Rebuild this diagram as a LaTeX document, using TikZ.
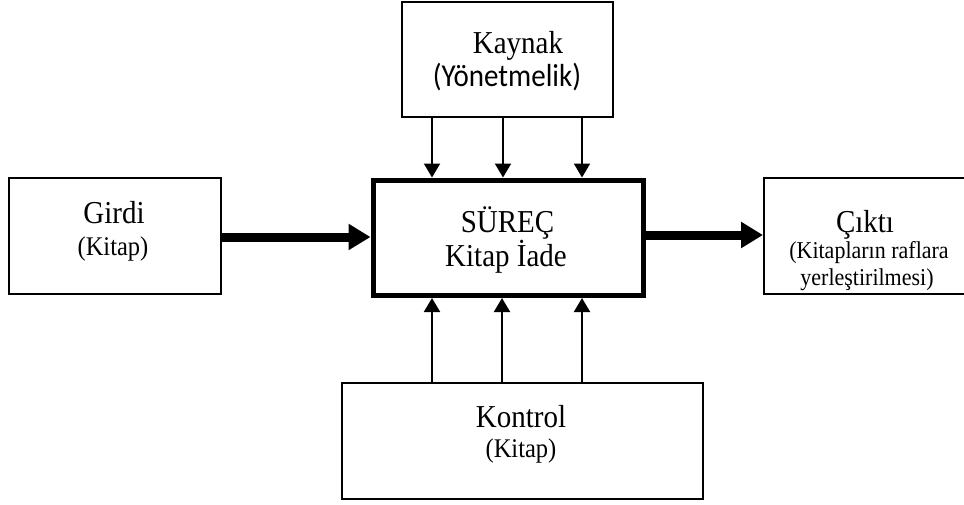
\documentclass[tikz,border=0pt]{standalone}
\usepackage{fontspec}
\usepackage{graphicx}
\setmainfont{Liberation Serif}
\newfontfamily\calfont{Carlito}
\newcommand{\vst}[1]{\scalebox{1}[1.1]{#1}}
\usetikzlibrary{arrows.meta}
\begin{document}
\begin{tikzpicture}[x=1pt,y=-1pt,
  box/.style={draw,line width=1.5pt,rectangle,inner sep=0pt,anchor=north west},
  mainbox/.style={box,line width=5pt},
  thinarrow/.style={line width=2pt,-{Triangle[width=16pt,length=14pt]}},
  thickarrow/.style={line width=9pt,-{Triangle[width=25pt,length=22pt]}},
  big/.style={anchor=base,font=\fontsize{29}{34}\selectfont},
  small/.style={anchor=base,font=\fontsize{24.5}{28}\selectfont},
  smaller/.style={anchor=base,font=\fontsize{22}{25}\selectfont},
  sans/.style={anchor=base,font=\calfont\fontsize{29}{34}\selectfont}]
\useasboundingbox (0,0) rectangle (964,504);
\fill[white] (0,0) rectangle (964,504);

\node[box,minimum width=211pt,minimum height=115pt] (kaynak) at (401,1) {};
\node[box,minimum width=212pt,minimum height=116pt] (girdi) at (8,177) {};
\node[mainbox,minimum width=270pt,minimum height=115.5pt] (surec) at (370.5,177.5) {};
\node[box,minimum width=205pt,minimum height=116pt] (cikti) at (763,177) {};
\node[box,minimum width=361pt,minimum height=116pt] (kontrol) at (341,382) {};

\node[big] (tk1) at (518,53) {\vst{Kaynak}};
\node[sans] (tk2) at (507,86) {\vst{(Yönetmelik)}};
\node[big] (tg1) at (114,223) {\vst{Girdi}};
\node[small] (tg2) at (113,255) {\vst{(Kitap)}};
\node[big] (ts1) at (507.5,232) {\vst{SÜREÇ}};
\node[big] (ts2) at (506,266) {\vst{Kitap İade}};
\node[big] (tc1) at (865,232) {\vst{Çıktı}};
\node[smaller] (tc2) at (869,258) {\vst{(Kitapların raflara}};
\node[smaller] (tc3) at (867,285) {\vst{yerleştirilmesi)}};
\node[big] (tn1) at (521,427) {\vst{Kontrol}};
\node[small] (tn2) at (521,457) {\vst{(Kitap)}};

\coordinate (a1) at (432,0);
\coordinate (a2) at (503,0);
\coordinate (a3) at (582,0);
\coordinate (b1) at (432,0);
\coordinate (b2) at (502,0);
\coordinate (b3) at (582,0);
\foreach \c in {a1,a2,a3}
  \draw[thinarrow] (kaynak.south -| \c) -- (surec.north -| \c);
\foreach \c in {b1,b2,b3}
  \draw[thinarrow] (kontrol.north -| \c) -- (surec.south -| \c);

\coordinate (gy) at (0,237);
\coordinate (cy) at (0,235);
\draw[thickarrow] (girdi.east |- gy) -- (surec.west |- gy);
\draw[thickarrow] (surec.east |- cy) -- (cikti.west |- cy);
\end{tikzpicture}
\end{document}
